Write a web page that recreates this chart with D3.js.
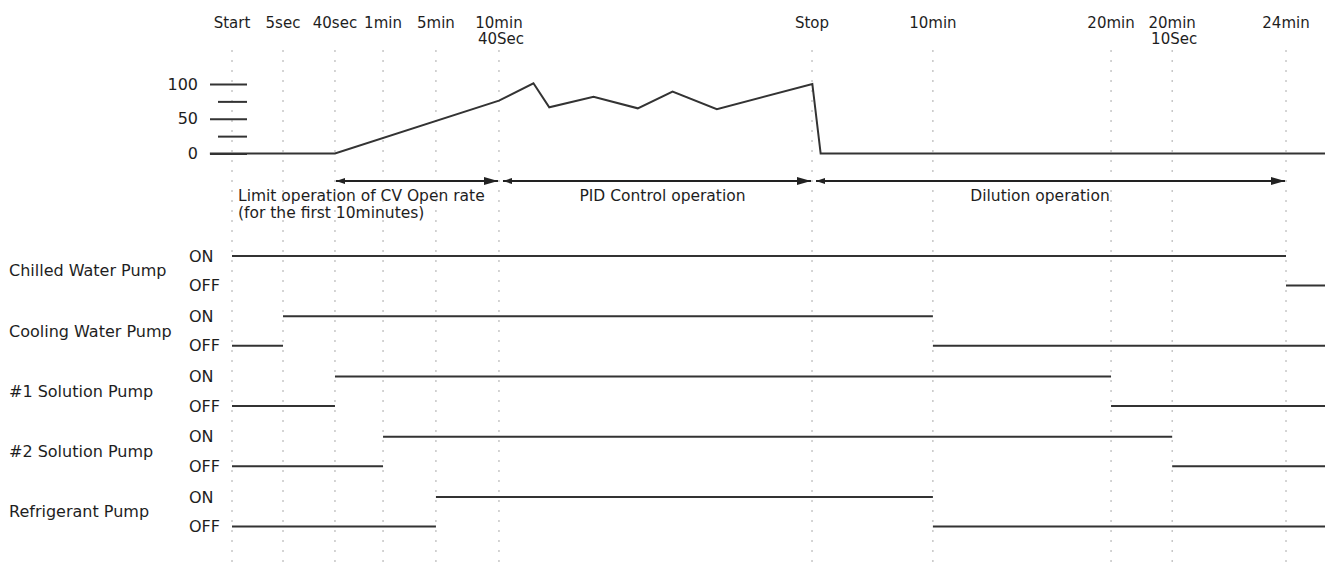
<!DOCTYPE html>
<html>
<head>
<meta charset="utf-8">
<script src="https://cdn.jsdelivr.net/npm/d3@7"></script>
<style>
  body { margin: 0; background: #fff; }
  text { font-family: "DejaVu Sans", sans-serif; font-size: 16px; fill: #1e1e1e; }
  .tick text { font-family: "DejaVu Sans", sans-serif; font-size: 16px; fill: #1e1e1e; }
  .evt { font-size: 15px; }
  .phase { font-size: 15.5px; }
</style>
</head>
<body>
<svg id="chart"></svg>
<script>
// Operation timing chart - open rate + pump ON/OFF sequence

var width = 1325, height = 570;

// events along the (schematic, non-linear) time axis
var eventLabels = ["Start", "5sec", "40sec", "1min", "5min", "10min\n40Sec", "Stop", "10min", "20min", "20min\n10Sec", "24min"];
var eventPos = [0, 4.84, 9.77, 14.33, 19.35, 25.33, 55.03, 66.5, 83.4, 89.2, 100];
var axisExtent = [-2.1, 103.7];

// CV open rate (%)
var openX = [-2.1, 9.77, 25.33, 28.6, 30.1, 34.3, 38.5, 41.8, 46.0, 55.06, 55.85, 103.7];
var openY = [0, 0, 76, 101, 66.5, 81.7, 65, 89, 63.6, 100, 0, 0];
var majorTicks = [0, 50, 100];
var minorTicks = [25, 75];

// operation phases (event index from / to)
var phaseNames = ["Limit operation of CV Open rate\n(for the first 10minutes)", "PID Control operation", "Dilution operation"];
var phaseFrom = [2, 5, 6];
var phaseTo = [5, 6, 10];

// pumps: ON between event onFrom and event onTo, OFF otherwise
var pumpNames = ["Chilled Water Pump", "Cooling Water Pump", "#1 Solution Pump", "#2 Solution Pump", "Refrigerant Pump"];
var pumpOnFrom = [0, 1, 2, 3, 4];
var pumpOnTo = [10, 7, 8, 9, 7];

var x = d3.scaleLinear().domain([0, 100]).range([232, 1286]);
var y = d3.scaleLinear().domain([0, 100]).range([153.5, 84]);
var row = d3.scalePoint().domain(pumpNames).range([256, 497]);
var stateOffset = {ON: 0, OFF: 29.5};

var svg = d3.select("#chart")
    .attr("width", width)
    .attr("height", height);

svg.append("rect").attr("width", width).attr("height", height).attr("fill", "#fff");

// dotted event guides
svg.append("g").selectAll("line")
    .data(eventPos)
    .enter().append("line")
    .attr("x1", function(d) { return x(d); })
    .attr("x2", function(d) { return x(d); })
    .attr("y1", 50)
    .attr("y2", height)
    .attr("stroke", "#aaa")
    .attr("stroke-width", 1)
    .attr("stroke-dasharray", "2,8");

// event labels on top
var evt = svg.append("g").selectAll("text")
    .data(eventLabels)
    .enter().append("text")
    .attr("class", "evt")
    .attr("text-anchor", "middle")
    .attr("y", 28);
evt.each(function(d, i) {
    var t = d3.select(this);
    d.split("\n").forEach(function(s, k) {
        t.append("tspan")
            .attr("x", x(eventPos[i]) + (k ? 2 : 0))
            .attr("dy", k ? 16 : 0)
            .text(s);
    });
});

// y axis of open rate
var yaxis = svg.append("g")
    .attr("transform", "translate(247,0)")
    .call(d3.axisLeft(y).tickValues(majorTicks).tickSize(37).tickPadding(12));
var yminor = svg.append("g")
    .attr("transform", "translate(247,0)")
    .call(d3.axisLeft(y).tickValues(minorTicks).tickSize(29).tickFormat(""));
[yaxis, yminor].forEach(function(g) {
    g.select(".domain").remove();
    g.selectAll(".tick line").attr("stroke", "#333").attr("stroke-width", 2);
});

// open rate line
var openLine = d3.line()
    .x(function(d) { return x(d[0]); })
    .y(function(d) { return y(d[1]); });
svg.append("path")
    .datum(d3.zip(openX, openY))
    .attr("d", openLine)
    .attr("fill", "none")
    .attr("stroke", "#333")
    .attr("stroke-width", 2);

// phase arrows
var defs = svg.append("defs");
defs.append("marker")
    .attr("id", "headR")
    .attr("viewBox", "0 0 14 8")
    .attr("refX", 14).attr("refY", 4)
    .attr("markerWidth", 14).attr("markerHeight", 8)
    .attr("markerUnits", "userSpaceOnUse")
    .attr("orient", "auto")
    .append("path").attr("d", "M0,0L14,4L0,8Z").attr("fill", "#222");
defs.append("marker")
    .attr("id", "headL")
    .attr("viewBox", "0 0 9 6")
    .attr("refX", 0).attr("refY", 3)
    .attr("markerWidth", 9).attr("markerHeight", 6)
    .attr("markerUnits", "userSpaceOnUse")
    .attr("orient", "auto")
    .append("path").attr("d", "M0,3L9,0L9,6Z").attr("fill", "#222");

var arrowY = 181;
svg.append("g").selectAll("line")
    .data(phaseNames)
    .enter().append("line")
    .attr("x1", function(d, i) { return x(eventPos[phaseFrom[i]]) + (i ? 4 : 1); })
    .attr("x2", function(d, i) { return x(eventPos[phaseTo[i]]) - 1; })
    .attr("y1", arrowY)
    .attr("y2", arrowY)
    .attr("stroke", "#222")
    .attr("stroke-width", 2)
    .attr("marker-start", "url(#headL)")
    .attr("marker-end", "url(#headR)");

var labelShift = [0, 7, -9];
svg.append("g").selectAll("text")
    .data(phaseNames)
    .enter().append("text")
    .attr("class", "phase")
    .attr("text-anchor", function(d, i) { return i ? "middle" : "start"; })
    .attr("y", 201)
    .each(function(d, i) {
        var t = d3.select(this);
        var cx = i ? (x(eventPos[phaseFrom[i]]) + x(eventPos[phaseTo[i]])) / 2 + labelShift[i] : x(eventPos[0]) + 6;
        d.split("\n").forEach(function(s, k) {
            t.append("tspan").attr("x", cx).attr("dy", k ? 17 : 0).text(s);
        });
    });

// pump sequence rows
var pumps = svg.append("g").selectAll(".pump")
    .data(pumpNames)
    .enter().append("g")
    .attr("class", "pump")
    .attr("transform", function(d) { return "translate(0," + row(d) + ")"; });

pumps.append("text")
    .attr("x", 9)
    .attr("y", (stateOffset.ON + stateOffset.OFF) / 2)
    .attr("dy", "0.35em")
    .text(function(d) { return d; });

pumps.selectAll(".state")
    .data(["ON", "OFF"])
    .enter().append("text")
    .attr("class", "state")
    .attr("x", 189)
    .attr("y", function(d) { return stateOffset[d]; })
    .attr("dy", "0.35em")
    .text(function(d) { return d; });

pumps.selectAll(".seg")
    .data(function(d, i) {
        var a = pumpOnFrom[i], b = pumpOnTo[i], segs = [];
        if (a > 0) segs.push({s: "OFF", x0: eventPos[0], x1: eventPos[a]});
        segs.push({s: "ON", x0: eventPos[a], x1: eventPos[b]});
        segs.push({s: "OFF", x0: eventPos[b], x1: axisExtent[1]});
        return segs;
    })
    .enter().append("line")
    .attr("class", "seg")
    .attr("x1", function(d) { return x(d.x0); })
    .attr("x2", function(d) { return x(d.x1); })
    .attr("y1", function(d) { return stateOffset[d.s]; })
    .attr("y2", function(d) { return stateOffset[d.s]; })
    .attr("stroke", "#333")
    .attr("stroke-width", 2);
</script>
</body>
</html>
